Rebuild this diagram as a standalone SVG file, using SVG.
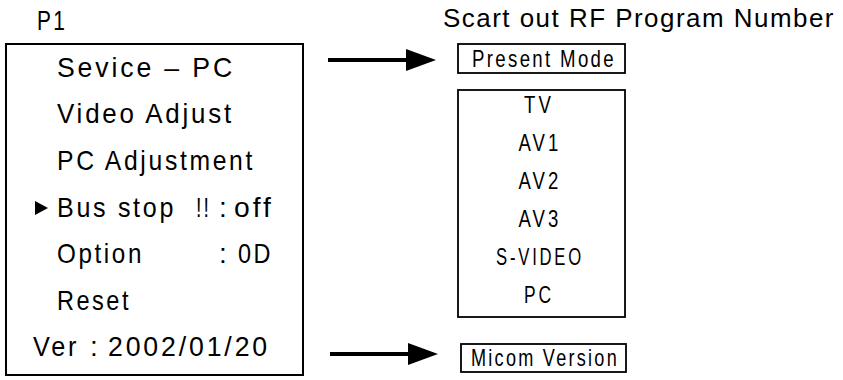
<svg xmlns="http://www.w3.org/2000/svg" width="843" height="380" viewBox="0 0 843 380">
<defs>
<style>
text{font-family:"Liberation Sans","DejaVu Sans",sans-serif;fill:#000}
.m{font-size:28px;letter-spacing:3px}
.r{font-size:24px;letter-spacing:3px}
.t{font-size:26px;letter-spacing:1.5px}
.l{font-size:24px;letter-spacing:4px}
.box{fill:#fff;stroke:#000;stroke-width:2}
.sbox{fill:#fff;stroke:#000;stroke-width:1.8}
.arr{stroke:#000;stroke-width:4;fill:none}
</style>
<marker id="ah" markerUnits="userSpaceOnUse" markerWidth="30" markerHeight="22" refX="4" refY="11" orient="auto" viewBox="0 0 30 22">
<path d="M0,0 L30,11 L0,22 z" fill="#000"/>
</marker>
</defs>
<rect width="843" height="380" fill="#fff"/>
<g id="menu">
<text class="m" x="37" y="30" font-size="25" textLength="30" lengthAdjust="spacingAndGlyphs">P1</text>
<rect class="box" x="6" y="44" width="297" height="331"/>
<text class="m" x="57" y="77" textLength="178" lengthAdjust="spacingAndGlyphs">Sevice – PC</text>
<text class="m" x="57" y="123" textLength="177" lengthAdjust="spacingAndGlyphs">Video Adjust</text>
<text class="m" x="57" y="170" textLength="198" lengthAdjust="spacingAndGlyphs">PC Adjustment</text>
<path d="M35,201 L48,208 L35,215 z" fill="#000"/>
<text class="m" y="217"><tspan x="57" textLength="119" lengthAdjust="spacingAndGlyphs">Bus stop</tspan><tspan x="196" textLength="15" lengthAdjust="spacingAndGlyphs">!!</tspan><tspan x="219">:</tspan><tspan x="234" textLength="40" lengthAdjust="spacingAndGlyphs">off</tspan></text>
<text class="m" y="263"><tspan x="57" textLength="87" lengthAdjust="spacingAndGlyphs">Option</tspan><tspan x="219">:</tspan><tspan x="238" textLength="35" lengthAdjust="spacingAndGlyphs">0D</tspan></text>
<text class="m" x="57" y="310" textLength="74" lengthAdjust="spacingAndGlyphs">Reset</text>
<text class="m" y="356"><tspan x="33" textLength="46" lengthAdjust="spacingAndGlyphs">Ver</tspan><tspan x="90">:</tspan><tspan x="108" textLength="162" lengthAdjust="spacingAndGlyphs">2002/01/20</tspan></text>
</g>
<g id="title">
<text class="t" x="443" y="27" textLength="392" lengthAdjust="spacingAndGlyphs">Scart out RF Program Number</text>
</g>
<g id="present-mode">
<rect class="sbox" x="458" y="44" width="167" height="29"/>
<text class="r" x="472" y="67" textLength="144" lengthAdjust="spacingAndGlyphs">Present Mode</text>
</g>
<g id="sources">
<rect class="sbox" x="458" y="90" width="167" height="227"/>
<g class="l" text-anchor="middle">
<text x="539" y="113" textLength="30" lengthAdjust="spacingAndGlyphs">TV</text>
<text x="540" y="151" textLength="43" lengthAdjust="spacingAndGlyphs">AV1</text>
<text x="540" y="189" textLength="43" lengthAdjust="spacingAndGlyphs">AV2</text>
<text x="540" y="227" textLength="43" lengthAdjust="spacingAndGlyphs">AV3</text>
<text x="540" y="265" textLength="88" lengthAdjust="spacingAndGlyphs">S-VIDEO</text>
<text x="539" y="303" textLength="30" lengthAdjust="spacingAndGlyphs">PC</text>
</g>
</g>
<g id="micom-version">
<rect class="sbox" x="461" y="344" width="165" height="28"/>
<text class="r" x="471" y="366" textLength="148" lengthAdjust="spacingAndGlyphs">Micom Version</text>
</g>
<g id="connectors">
<line class="arr" x1="328" y1="60" x2="410" y2="60" marker-end="url(#ah)"/>
<line class="arr" x1="330" y1="354" x2="412" y2="354" marker-end="url(#ah)"/>
</g>
</svg>
